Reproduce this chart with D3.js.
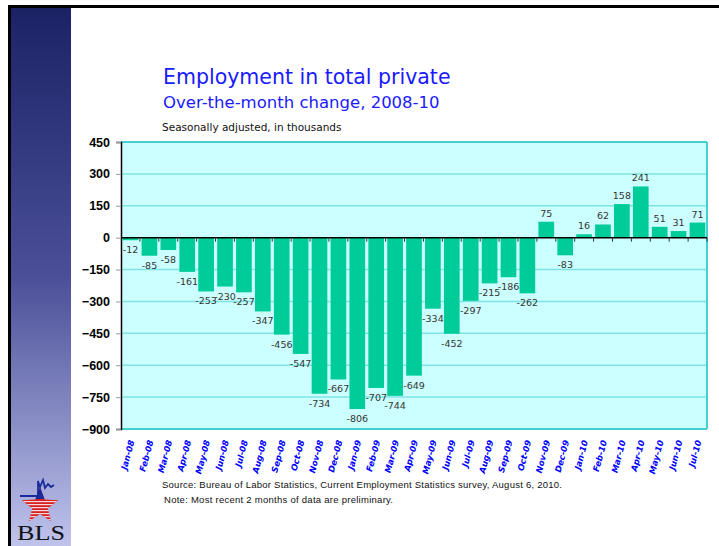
<!DOCTYPE html>
<html><head><meta charset="utf-8">
<script src="https://cdn.jsdelivr.net/npm/d3@7"></script>
<style>body{margin:0;background:#fff;}svg{display:block;}</style>
</head><body>
<svg id="c" width="719" height="546"></svg>
<script>
const months = ["Jan-08","Feb-08","Mar-08","Apr-08","May-08","Jun-08","Jul-08","Aug-08","Sep-08","Oct-08","Nov-08","Dec-08",
"Jan-09","Feb-09","Mar-09","Apr-09","May-09","Jun-09","Jul-09","Aug-09","Sep-09","Oct-09","Nov-09","Dec-09",
"Jan-10","Feb-10","Mar-10","Apr-10","May-10","Jun-10","Jul-10"];
const changes = [-12,-85,-58,-161,-253,-230,-257,-347,-456,-547,-734,-667,
-806,-707,-744,-649,-334,-452,-297,-215,-186,-262,75,-83,
16,62,158,241,51,31,71];
const yTicks = [450,300,150,0,-150,-300,-450,-600,-750,-900];

const svg = d3.select("#c");
const W = 719, H = 546;

// left gradient band
const defs = svg.append("defs");
const g1 = defs.append("linearGradient").attr("id","band").attr("x1",0).attr("y1",0).attr("x2",0).attr("y2",1);
g1.append("stop").attr("offset","0").attr("stop-color","#1b2264");
g1.append("stop").attr("offset","0.5").attr("stop-color","#4a4f98");
g1.append("stop").attr("offset","1").attr("stop-color","#bfc3ec");
svg.append("rect").attr("x",11).attr("y",7).attr("width",60).attr("height",H-7).attr("fill","url(#band)");
// borders
svg.append("rect").attr("x",8).attr("y",5).attr("width",W-8).attr("height",3).attr("fill","#000");
svg.append("rect").attr("x",8).attr("y",5).attr("width",3).attr("height",H-5).attr("fill","#000");

// titles
svg.append("text").attr("x",163).attr("y",84).attr("fill","#1a1aff")
  .style("font-family","Verdana, 'DejaVu Sans', sans-serif").style("font-size","20.5px").text("Employment in total private");
svg.append("text").attr("x",163).attr("y",108).attr("fill","#1a1aff")
  .style("font-family","Verdana, 'DejaVu Sans', sans-serif").style("font-size","16.5px").text("Over-the-month change, 2008-10");
svg.append("text").attr("x",162).attr("y",131).attr("fill","#111")
  .style("font-family","Verdana, 'DejaVu Sans', sans-serif").style("font-size","10.5px").text("Seasonally adjusted, in thousands");

// plot
const x0 = 121, x1 = 707, yTop = 142, yBot = 429;
const x = d3.scaleBand().domain(months).range([x0,x1]).paddingInner(0.17).paddingOuter(0.09);
const y = d3.scaleLinear().domain([-900,450]).range([yBot,yTop]);

svg.append("rect").attr("x",x0).attr("y",yTop).attr("width",x1-x0).attr("height",yBot-yTop).attr("fill","#ccffff");
// gridlines
svg.append("g").selectAll("line").data(yTicks.filter(d=>d!==0)).join("line")
  .attr("x1",x0).attr("x2",x1).attr("y1",d=>y(d)).attr("y2",d=>y(d))
  .attr("stroke",d=>(d===450||d===-900)?"#44d0d0":"#7fe3e3").attr("stroke-width",d=>(d===450||d===-900)?2:1.5);
svg.append("line").attr("x1",x1).attr("x2",x1).attr("y1",yTop).attr("y2",yBot).attr("stroke","#44d0d0").attr("stroke-width",2);

// bars
svg.append("g").selectAll("rect").data(changes).join("rect")
  .attr("x",(d,i)=>x(months[i]))
  .attr("width",x.bandwidth())
  .attr("y",d=>Math.min(y(d),y(0)))
  .attr("height",d=>Math.abs(y(d)-y(0)))
  .attr("fill","#00cc99");

// zero line & x ticks at category boundaries
svg.append("line").attr("x1",x0).attr("x2",x1).attr("y1",y(0)).attr("y2",y(0)).attr("stroke","#000").attr("stroke-width",1.5);
svg.append("g").selectAll("line").data(d3.range(1,months.length+1)).join("line")
  .attr("x1",i=>x0 + i*(x1-x0)/months.length).attr("x2",i=>x0 + i*(x1-x0)/months.length)
  .attr("y1",y(0)).attr("y2",y(0)+4).attr("stroke","#333").attr("stroke-width",1);

// y axis
const yAxis = d3.axisLeft(y).tickValues(yTicks).tickSize(5).tickPadding(6);
const ga = svg.append("g").attr("transform",`translate(${x0},0)`).call(yAxis);
ga.select(".domain").attr("stroke","#000").attr("stroke-width",1.5);
ga.selectAll(".tick line").attr("stroke","#999");
ga.selectAll(".tick text").attr("fill","#000").style("font-family","Arial, 'Liberation Sans', sans-serif")
  .style("font-size","12.5px").style("font-weight","bold");

// value labels
svg.append("g").selectAll("text").data(changes).join("text")
  .attr("x",(d,i)=>x(months[i])+x.bandwidth()/2)
  .attr("y",d=> d<0 ? y(d)+13 : y(d)-5)
  .attr("text-anchor","middle").attr("fill","#333")
  .style("font-family","Verdana, 'DejaVu Sans', sans-serif").style("font-size","9.5px")
  .text(d=>d);

// x labels
svg.append("g").selectAll("text").data(months).join("text")
  .attr("transform",(d)=>`translate(${x(d)+x.bandwidth()/2+4},${yBot+12}) rotate(-75)`)
  .attr("text-anchor","end").attr("fill","#0000ff")
  .style("font-family","Verdana, 'DejaVu Sans', sans-serif").style("font-size","8.5px")
  .style("font-weight","bold").style("font-style","italic")
  .text(d=>d);

// source notes
svg.append("text").attr("x",162).attr("y",488).attr("fill","#111")
  .style("font-family","'Liberation Sans Narrow', 'Arial Narrow', sans-serif").style("font-size","9.5px")
  .attr("textLength",400).text("Source:  Bureau of Labor Statistics, Current Employment Statistics survey, August 6, 2010.");
svg.append("text").attr("x",164).attr("y",503).attr("fill","#111")
  .style("font-family","'Liberation Sans Narrow', 'Arial Narrow', sans-serif").style("font-size","9.5px")
  .attr("textLength",229).text("Note: Most recent 2 months of data are preliminary.");

// BLS logo
const lg = svg.append("g");
function starPts(cx,cy,R,r){const p=[];for(let i=0;i<10;i++){const a=-Math.PI/2+i*Math.PI/5;const rr=i%2?r:R;p.push([cx+rr*Math.cos(a),cy+rr*Math.sin(a)]);}return p;}
const sp = starPts(40,506,19,8);
const spStr = sp.map(p=>p.join(",")).join(" ");
defs.append("clipPath").attr("id","starclip").append("polygon").attr("points",spStr);
lg.append("polygon").attr("points",spStr).attr("fill","#d62020");
const sc = lg.append("g").attr("clip-path","url(#starclip)");
sc.append("rect").attr("x",18).attr("y",485).attr("width",44).attr("height",14).attr("fill","#1a2a9a");
sc.selectAll(".s").data(d3.range(7)).join("rect")
  .attr("x",18).attr("width",44).attr("y",i=>501+i*3).attr("height",1.2).attr("fill","#f3d8e0");
lg.append("path").attr("d","M20,496 L38,496 L38,481 L40,487 L43,480 L45,488 L48,484 L51,487 L54,485")
  .attr("fill","none").attr("stroke","#1a2a9a").attr("stroke-width",1.8);
lg.append("text").attr("x",41).attr("y",540).attr("text-anchor","middle").attr("fill","#111")
  .attr("textLength",48).attr("lengthAdjust","spacingAndGlyphs")
  .style("font-family","'Liberation Serif', 'Times New Roman', serif").style("font-size","22px").text("BLS");
</script>
</body></html>
